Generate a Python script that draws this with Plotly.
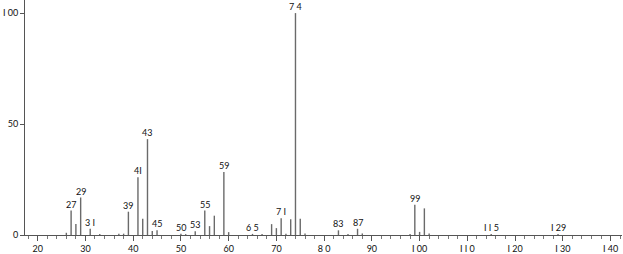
import plotly.graph_objects as go

mz = [26, 27, 28, 29, 31, 33, 37, 38, 39, 41, 42, 43, 44, 45, 50, 51, 53, 55, 56, 57, 59, 60,
      65, 67, 69, 70, 71, 72, 73, 74, 75, 76, 83, 85, 87, 88, 98, 99, 100, 101, 102, 115, 129]
intensity = [1.0, 11.0, 5.0, 16.9, 2.8, 0.5, 0.6, 0.6, 10.5, 26.0, 7.3, 43.2, 1.8, 2.1, 0.6, 0.4, 1.7,
             11.0, 4.0, 8.7, 28.4, 1.3, 0.5, 0.4, 4.9, 3.1, 7.6, 0.6, 7.1, 100.0, 7.3, 0.7,
             2.1, 0.5, 2.8, 0.7, 0.5, 13.6, 1.4, 12.0, 0.7, 0.4, 0.4]
labelled = [27, 29, 31, 39, 41, 43, 45, 50, 53, 55, 59, 65, 71, 74, 83, 87, 99, 115, 129]
label_text = ["27", "29", "3 I", "39", "4I", "43", "45", "50", "53", "55", "59", "6 5", "7 I", "7 4",
              "83", "87", "99", "I I 5", "I 29"]
x_ticks = [20, 30, 40, 50, 60, 70, 80, 90, 100, 110, 120, 130, 140]
x_tick_text = ["20", "30", "40", "50", "60", "70", "8 0", "90", "I 00", "I I 0", "I 20", "I 30", "I 40"]
y_ticks = [0, 50, 100]
y_tick_text = ["0", "50", "I 00"]

xs, ys = [], []
for m, v in zip(mz, intensity):
    xs += [m, m, None]
    ys += [0, v, None]

fig = go.Figure()
fig.add_trace(go.Scatter(x=xs, y=ys, mode="lines",
                         line=dict(color="#6a6a6a", width=1.4),
                         hoverinfo="skip", showlegend=False))

lookup = dict(zip(mz, intensity))
for m, t in zip(labelled, label_text):
    fig.add_annotation(x=m, y=lookup[m], text=t, showarrow=False,
                       yanchor="bottom", yshift=-1,
                       font=dict(family="Lato", size=9, color="#111"))

fig.update_layout(
    width=623, height=254,
    margin=dict(l=25, r=1, t=0, b=17),
    plot_bgcolor="white", paper_bgcolor="white",
    font=dict(family="Lato", size=9, color="#111"),
    xaxis=dict(range=[17.34, 142.4], showgrid=False, zeroline=False,
               showline=True, linecolor="#555", linewidth=1,
               tickmode="array", tickvals=x_ticks, ticktext=x_tick_text,
               ticks="outside", ticklen=5, tickcolor="#555", tickwidth=1,
               minor=dict(dtick=2, tick0=0, ticks="outside", ticklen=3, tickcolor="#777"),
               fixedrange=True),
    yaxis=dict(range=[0, 105.9], showgrid=False, zeroline=False,
               showline=True, linecolor="#555", linewidth=1,
               tickmode="array", tickvals=y_ticks, ticktext=y_tick_text,
               ticks="outside", ticklen=4, tickcolor="#555",
               fixedrange=True),
)

fig.write_html("out.html")
